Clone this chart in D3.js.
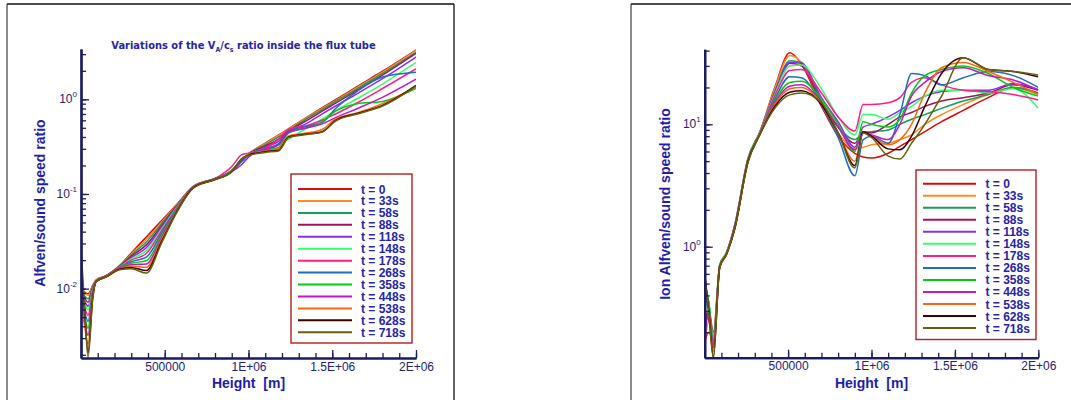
<!DOCTYPE html>
<html>
<head>
<meta charset="utf-8">
<title>Alfven / sound speed ratio</title>
<script src="https://d3js.org/d3.v7.min.js"></script>
<style>
  body { margin: 0; background: #fff; }
  svg { display: block; font-family: "Liberation Sans", Arial, sans-serif; }
  .tick-label { font-size: 12px; fill: #24246e; }
  .axis-title { font-size: 14px; font-weight: bold; fill: #1e1eaa; white-space: pre; }
  .legend-label { font-size: 12px; font-weight: bold; fill: #2424ac; }
  .title { font-family: "DejaVu Sans Condensed", "DejaVu Sans", sans-serif; font-size: 11px; font-weight: bold; fill: #2626a4; }
</style>
</head>
<body>
<svg id="chart" width="1071" height="400"></svg>
<script>
const heightsLeft = [0, 20000, 42000, 70000, 90000, 150000, 230000, 300000, 390000, 480000, 570000, 670000,
  800000, 900000, 960000, 1000000, 1100000, 1180000, 1240000, 1350000, 1440000, 1520000, 1650000, 1800000, 2000000];
const heightsRight = [0, 25000, 52000, 90000, 130000, 180000, 260000, 330000, 420000, 510000, 580000, 700000,
  800000, 900000, 950000, 1000000, 1100000, 1170000, 1240000, 1320000, 1420000, 1550000, 1700000, 1850000, 2000000];

// left panel: VA/cs
const vaT0   = [0.0095, 0.0092, 0.0088, 0.0108, 0.0123, 0.0137, 0.0175, 0.0238, 0.0352, 0.052, 0.0769, 0.12, 0.146, 0.178, 0.228, 0.265, 0.345, 0.42, 0.49, 0.65, 0.815, 0.99, 1.37, 1.98, 3.32];
const vaT33  = [0.0097, 0.0091, 0.0085, 0.0107, 0.0123, 0.0137, 0.0174, 0.0232, 0.0331, 0.050, 0.0759, 0.12, 0.146, 0.178, 0.228, 0.265, 0.34, 0.415, 0.485, 0.64, 0.8, 0.97, 1.34, 1.94, 3.28];
const vaT58  = [0.009, 0.0084, 0.0078, 0.0105, 0.0122, 0.0136, 0.0173, 0.0226, 0.0311, 0.0482, 0.0748, 0.119, 0.145, 0.177, 0.23, 0.265, 0.33, 0.4, 0.47, 0.625, 0.78, 0.95, 1.3, 1.88, 3.15];
const vaT88  = [0.0088, 0.008, 0.0072, 0.0103, 0.0122, 0.0136, 0.0171, 0.0219, 0.029, 0.046, 0.0736, 0.119, 0.145, 0.176, 0.225, 0.262, 0.32, 0.38, 0.46, 0.6, 0.75, 0.91, 1.25, 1.8, 3.05];
const vaT118 = [0.0085, 0.0075, 0.0065, 0.0101, 0.0121, 0.0135, 0.0169, 0.0212, 0.027, 0.044, 0.0724, 0.118, 0.144, 0.172, 0.205, 0.245, 0.31, 0.36, 0.45, 0.56, 0.7, 0.85, 1.15, 1.65, 2.8];
const vaT148 = [0.008, 0.0069, 0.006, 0.0098, 0.0121, 0.0135, 0.0168, 0.0206, 0.0252, 0.0422, 0.0713, 0.118, 0.144, 0.176, 0.232, 0.262, 0.3, 0.33, 0.38, 0.5, 0.62, 0.76, 1.02, 1.45, 2.45];
const vaT178 = [0.0078, 0.0064, 0.0052, 0.0095, 0.012, 0.0135, 0.0167, 0.02, 0.0235, 0.0404, 0.0701, 0.118, 0.145, 0.195, 0.26, 0.27, 0.305, 0.38, 0.48, 0.53, 0.6, 0.7, 0.92, 1.3, 2.1];
const vaT268 = [0.0075, 0.0058, 0.0045, 0.0092, 0.012, 0.0134, 0.0165, 0.0192, 0.0215, 0.0382, 0.0687, 0.117, 0.144, 0.174, 0.22, 0.258, 0.3, 0.34, 0.46, 0.52, 0.57, 0.8, 1.22, 1.72, 1.93];
const vaT358 = [0.0072, 0.0052, 0.0038, 0.009, 0.0119, 0.0134, 0.0164, 0.0185, 0.0197, 0.0361, 0.0675, 0.117, 0.143, 0.175, 0.235, 0.26, 0.29, 0.31, 0.44, 0.5, 0.58, 0.75, 0.9, 0.95, 1.3];
const vaT448 = [0.007, 0.0047, 0.0032, 0.0087, 0.0119, 0.0134, 0.0163, 0.0179, 0.0182, 0.0344, 0.0662, 0.117, 0.143, 0.174, 0.232, 0.258, 0.295, 0.33, 0.45, 0.5, 0.55, 0.64, 0.8, 1.05, 1.63];
const vaT538 = [0.0068, 0.0042, 0.0026, 0.0083, 0.0118, 0.0133, 0.0161, 0.0173, 0.0168, 0.0327, 0.065, 0.116, 0.142, 0.173, 0.235, 0.257, 0.285, 0.3, 0.41, 0.44, 0.48, 0.62, 0.72, 0.9, 1.35];
const vaT628 = [0.02, 0.0065, 0.0021, 0.008, 0.0118, 0.0133, 0.016, 0.0167, 0.0155, 0.0312, 0.0638, 0.116, 0.142, 0.172, 0.235, 0.256, 0.28, 0.29, 0.4, 0.43, 0.455, 0.6, 0.71, 0.86, 1.4];
const vaT718 = [0.027, 0.0072, 0.0019, 0.0078, 0.0118, 0.0133, 0.0158, 0.0162, 0.0146, 0.030, 0.063, 0.115, 0.142, 0.172, 0.235, 0.255, 0.275, 0.285, 0.395, 0.425, 0.45, 0.59, 0.7, 0.85, 1.38];
const vaSeries = [vaT0, vaT33, vaT58, vaT88, vaT118, vaT148, vaT178, vaT268, vaT358, vaT448, vaT538, vaT628, vaT718];

// right panel: ion Alfven / sound speed
const ionT0   = [0.2, 0.3, 0.2, 0.7, 0.88, 1.45, 5.2, 8.6, 20, 38.5, 31, 14, 8, 5.8, 5.4, 5.3, 5.8, 6.6, 7.5, 8.7, 10.5, 13, 16.5, 20, 18];
const ionT33  = [0.15, 0.25, 0.19, 0.68, 0.87, 1.4, 5.0, 8.5, 19.5, 36.5, 32, 14.5, 8.5, 6.3, 6.5, 6.8, 7, 7.5, 8.2, 10, 12, 14.5, 17.5, 20, 17.5];
const ionT58  = [0.45, 0.35, 0.18, 0.7, 0.88, 1.45, 5.2, 8.5, 18.5, 33, 32, 15.5, 9.5, 7.5, 8.5, 8.7, 9, 10, 11, 12, 13.5, 15.5, 17.5, 20, 17.8];
const ionT88  = [0.3, 0.25, 0.17, 0.7, 0.88, 1.45, 5.2, 8.5, 18, 31.5, 30, 15, 9.5, 7, 8.7, 8.5, 10, 11.5, 12.5, 14, 15.5, 16.5, 18, 21, 19];
const ionT118 = [0.18, 0.3, 0.16, 0.71, 0.89, 1.5, 5.3, 8.6, 18, 32, 31.5, 16.5, 10.5, 6.5, 9.5, 10, 11.5, 13, 15, 17, 18.5, 19, 19, 21.5, 19.3];
const ionT148 = [0.35, 0.3, 0.18, 0.72, 0.9, 1.5, 5.3, 8.6, 17.5, 30, 30.5, 19.5, 11.5, 8.2, 12, 12, 11, 12.5, 14, 17, 19, 19, 18, 19.5, 13.5];
const ionT178 = [0.17, 0.2, 0.17, 0.7, 0.89, 1.5, 5.2, 8.5, 17, 27.5, 28, 18, 11.5, 8.8, 14.5, 14.5, 15, 16.5, 22, 24, 21, 19, 18.5, 17.5, 15.8];
const ionT268 = [0.4, 0.3, 0.16, 0.7, 0.88, 1.45, 5.1, 8.4, 16, 24.5, 24, 14.5, 7.8, 3.8, 7.5, 8, 7, 12, 26, 25, 21, 24, 27, 25, 20];
const ionT358 = [0.5, 0.35, 0.15, 0.69, 0.88, 1.45, 5.1, 8.4, 15.5, 22, 22.5, 16, 10, 6, 10.5, 10, 9.5, 11, 18, 25, 28, 30, 26, 20, 17];
const ionT448 = [0.22, 0.3, 0.15, 0.69, 0.87, 1.45, 5.0, 8.3, 15, 20.5, 21, 15, 9.5, 6.2, 8.5, 8.2, 7.5, 10, 17, 22, 27, 29, 25, 23, 19];
const ionT538 = [0.55, 0.3, 0.14, 0.68, 0.87, 1.4, 5.0, 8.3, 14.5, 19.5, 20, 14.8, 8.5, 5, 8.5, 8, 6.8, 7.5, 10, 18, 29, 32, 27, 22, 17.5];
const ionT628 = [0.6, 0.3, 0.125, 0.68, 0.86, 1.4, 5.0, 8.2, 14, 18.3, 18.8, 14.5, 8.5, 4.6, 8.7, 8, 6.3, 6.2, 8, 14, 26, 35, 28, 27, 24.5];
const ionT718 = [0.6, 0.28, 0.124, 0.67, 0.86, 1.4, 4.9, 8.2, 13.5, 17.4, 18, 15, 8.5, 4.4, 8.5, 7.8, 5.5, 5.2, 7, 10, 17, 35, 28, 27, 25.3];
const ionSeries = [ionT0, ionT33, ionT58, ionT88, ionT118, ionT148, ionT178, ionT268, ionT358, ionT448, ionT538, ionT628, ionT718];

const timeLabels = ["t = 0", "t = 33s", "t = 58s", "t = 88s", "t = 118s", "t = 148s", "t = 178s",
  "t = 268s", "t = 358s", "t = 448s", "t = 538s", "t = 628s", "t = 718s"];
const xTickValues = [500000, 1000000, 1500000, 2000000];
const xTickLabels = ["500000", "1E+06", "1.5E+06", "2E+06"];
const leftDecades = [-2, -1, 0];
const rightDecades = [0, 1];

const colors = ["#dc0a0a", "#ff8c1e", "#12a058", "#a01456", "#8a2cf0", "#34ff6e", "#ff1c8c",
  "#1e6eb8", "#00cc10", "#c018c8", "#ff6410", "#3c0000", "#66600a"];
const axisColor = "#1b1b5e";

const svg = d3.select("#chart");

// panel frames
svg.append("line").attr("x1", 7).attr("x2", 7).attr("y1", 4).attr("y2", 400).attr("stroke", "#8a8a8a").attr("stroke-width", 2);
svg.append("line").attr("x1", 7).attr("x2", 454).attr("y1", 4).attr("y2", 4).attr("stroke", "#111").attr("stroke-width", 1.3);
svg.append("line").attr("x1", 454).attr("x2", 454).attr("y1", 4).attr("y2", 400).attr("stroke", "#111").attr("stroke-width", 1.3);
svg.append("line").attr("x1", 631).attr("x2", 631).attr("y1", 4).attr("y2", 400).attr("stroke", "#8a8a8a").attr("stroke-width", 2);
svg.append("line").attr("x1", 631).attr("x2", 1071).attr("y1", 4).attr("y2", 4).attr("stroke", "#111").attr("stroke-width", 1.3);

function drawPanel(p) {
  const x = d3.scaleLinear().domain([0, 2000000]).range([p.left, p.right]);
  const y = d3.scaleLog().domain(p.yDomain).range([p.bottom, p.top]);
  const g = svg.append("g");

  g.append("clipPath").attr("id", "clip-" + p.id)
    .append("rect")
    .attr("x", p.left).attr("y", p.top)
    .attr("width", p.right - p.left).attr("height", p.bottom - p.top);

  const line = d3.line()
    .x((d, i) => x(p.heights[i]))
    .y(d => y(d))
    .curve(d3.curveMonotoneX);

  g.append("g")
    .attr("clip-path", `url(#clip-${p.id})`)
    .selectAll("path")
    .data(p.series)
    .join("path")
    .attr("d", line)
    .attr("fill", "none")
    .attr("stroke", (d, i) => colors[i])
    .attr("stroke-width", 1.5);

  // x axis: minor + major ticks pointing inward
  g.append("g")
    .attr("transform", `translate(0,${p.bottom})`)
    .call(d3.axisBottom(x).tickValues(x.ticks(20)).tickSize(-5).tickSizeOuter(0).tickFormat(""));
  const xMajor = g.append("g")
    .attr("transform", `translate(0,${p.bottom})`)
    .call(d3.axisBottom(x).tickValues(xTickValues).tickSize(-8).tickSizeOuter(0).tickPadding(4)
      .tickFormat((d, i) => xTickLabels[i]));
  xMajor.selectAll("text").attr("class", "tick-label").attr("fill", null).attr("font-size", null).attr("font-family", null);

  // y axis
  g.append("g")
    .attr("transform", `translate(${p.left},0)`)
    .call(d3.axisLeft(y).tickValues(y.ticks()).tickSize(-5).tickSizeOuter(0).tickFormat(""));
  g.append("g")
    .attr("transform", `translate(${p.left},0)`)
    .call(d3.axisLeft(y).tickValues(p.decades.map(e => Math.pow(10, e))).tickSize(-8).tickSizeOuter(0).tickFormat(""));

  g.selectAll(".domain").attr("stroke", axisColor).attr("stroke-width", 2.2);
  g.selectAll(".tick line").attr("stroke", axisColor).attr("stroke-width", 1.3);

  // decade labels 10^n
  p.decades.forEach(e => {
    const t = g.append("text")
      .attr("class", "tick-label")
      .attr("text-anchor", "end")
      .attr("x", p.left - 4)
      .attr("y", y(Math.pow(10, e)) + 4);
    t.append("tspan").text("10");
    t.append("tspan").attr("dy", -6).attr("font-size", 8).text(e < 0 ? "-" + (-e) : String(e));
  });

  // axis titles
  g.append("text")
    .attr("class", "axis-title")
    .attr("text-anchor", "middle")
    .attr("x", (p.left + p.right) / 2)
    .attr("y", 388)
    .text("Height  [m]");
  g.append("text")
    .attr("class", "axis-title")
    .attr("text-anchor", "middle")
    .attr("transform", `translate(${p.yTitleX},${p.yTitleY}) rotate(-90)`)
    .text(p.yTitle);

  // legend
  const lg = g.append("g");
  lg.append("rect")
    .attr("x", p.legend.x).attr("y", p.legend.y)
    .attr("width", p.legend.w).attr("height", p.legend.h)
    .attr("fill", "#fff").attr("stroke", "#b81c1c").attr("stroke-width", 1.4);
  timeLabels.forEach((lab, i) => {
    const yy = p.legend.row0 + i * p.legend.step;
    lg.append("line")
      .attr("x1", p.legend.lx1).attr("x2", p.legend.lx2)
      .attr("y1", yy).attr("y2", yy)
      .attr("stroke", colors[i]).attr("stroke-width", 2);
    lg.append("text")
      .attr("class", "legend-label")
      .attr("x", p.legend.tx).attr("y", yy + 4.5)
      .text(lab);
  });
}

drawPanel({
  id: "va", heights: heightsLeft, series: vaSeries, decades: leftDecades,
  left: 81, right: 416, top: 49, bottom: 358, yDomain: [0.00185, 3.40],
  yTitle: "Alfven/sound speed ratio", yTitleX: 45, yTitleY: 203,
  legend: { x: 291, y: 174, w: 121, h: 169, row0: 189, step: 11.94, lx1: 298, lx2: 352, tx: 361 }
});

drawPanel({
  id: "ion", heights: heightsRight, series: ionSeries, decades: rightDecades,
  left: 704.7, right: 1038.3, top: 49.3, bottom: 357.7, yDomain: [0.124, 41],
  yTitle: "Ion Alfven/sound speed ratio", yTitleX: 670, yTitleY: 204,
  legend: { x: 916, y: 170, w: 120, h: 169.5, row0: 183.7, step: 12.03, lx1: 923, lx2: 976, tx: 985.5 }
});

// title of the left panel
const title = svg.append("text")
  .attr("class", "title")
  .attr("text-anchor", "middle")
  .attr("x", 243.5)
  .attr("y", 49);
title.append("tspan").text("Variations of the V");
title.append("tspan").attr("dy", 3).attr("font-size", 7).text("A");
title.append("tspan").attr("dy", -3).text("/c");
title.append("tspan").attr("dy", 3).attr("font-size", 7).text("s");
title.append("tspan").attr("dy", -3).text(" ratio inside the flux tube");
</script>
</body>
</html>
